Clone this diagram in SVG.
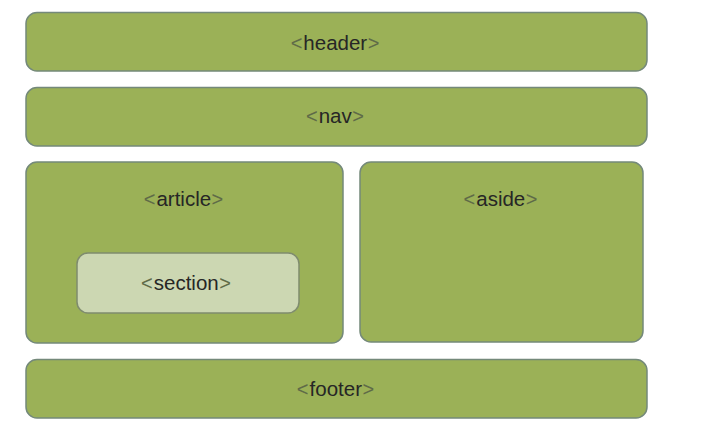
<svg xmlns="http://www.w3.org/2000/svg" width="701" height="431" viewBox="0 0 701 431">
<style>
.box{fill:#9bb157;stroke:#74897a;stroke-width:1.5}
.inner{fill:#ccd7b2;stroke:#7f8c6e;stroke-width:1.5}
text{font-family:"Liberation Sans",Arial,sans-serif;font-size:20.5px;fill:#262626;text-anchor:middle}
.br{fill:#5f6b48;font-size:20px}
</style>
<rect width="701" height="431" fill="#ffffff"/>
<g id="header"><rect class="box" x="26" y="12.5" width="621" height="58.5" rx="11"/><text x="335" y="50"><tspan class="br">&lt;</tspan><tspan dx="1">header</tspan><tspan class="br" dx="0.5">&gt;</tspan></text></g>
<g id="nav"><rect class="box" x="26" y="87.5" width="621" height="58.5" rx="11"/><text x="335" y="123"><tspan class="br">&lt;</tspan><tspan dx="1">nav</tspan><tspan class="br" dx="0.5">&gt;</tspan></text></g>
<g id="article"><rect class="box" x="26" y="162" width="317" height="181" rx="11"/><text x="183.5" y="206"><tspan class="br">&lt;</tspan><tspan dx="1">article</tspan><tspan class="br" dx="0.5">&gt;</tspan></text></g>
<g id="section"><rect class="inner" x="77" y="253" width="222" height="60" rx="11"/><text x="186" y="290"><tspan class="br">&lt;</tspan><tspan dx="1">section</tspan><tspan class="br" dx="0.5">&gt;</tspan></text></g>
<g id="aside"><rect class="box" x="360" y="162" width="283" height="180" rx="11"/><text x="500.5" y="206"><tspan class="br">&lt;</tspan><tspan dx="1">aside</tspan><tspan class="br" dx="0.5">&gt;</tspan></text></g>
<g id="footer"><rect class="box" x="26" y="359.5" width="621" height="58.5" rx="11"/><text x="335.5" y="396"><tspan class="br">&lt;</tspan><tspan dx="1">footer</tspan><tspan class="br" dx="0.5">&gt;</tspan></text></g>
<g id="connectors"></g>
</svg>
